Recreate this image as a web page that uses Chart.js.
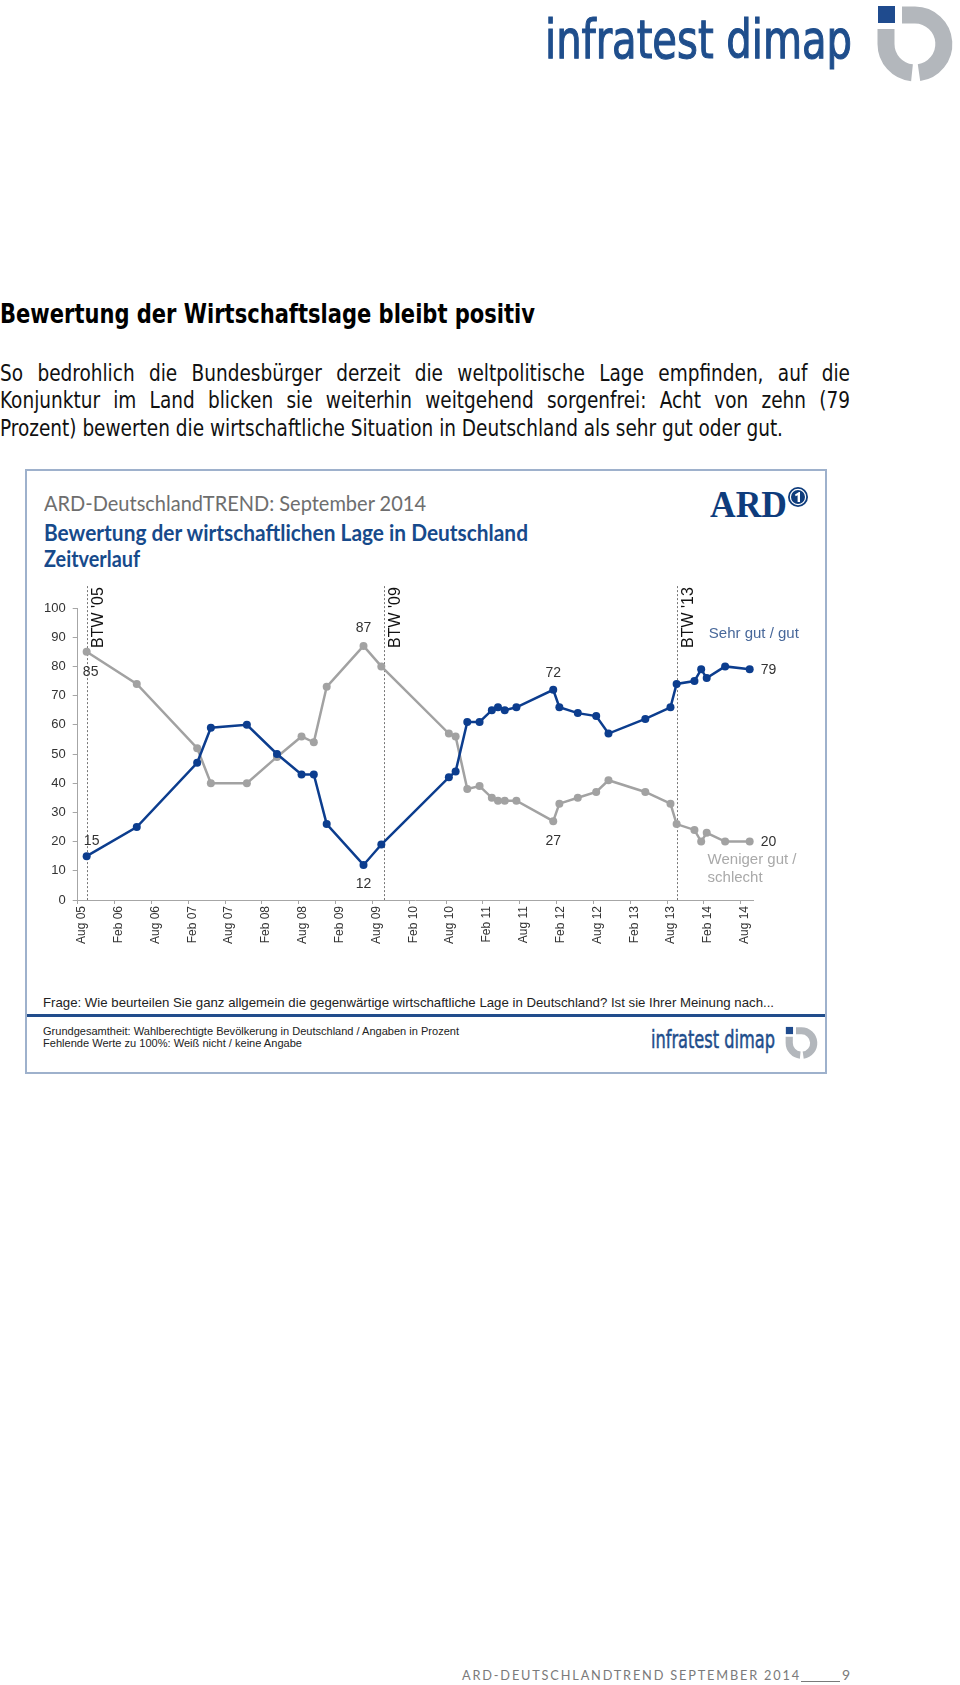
<!DOCTYPE html>
<html>
<head>
<meta charset="utf-8">
<title>Bewertung der Wirtschaftslage</title>
<script src="https://cdn.jsdelivr.net/npm/chart.js@4.4.1/dist/chart.umd.min.js"></script>
<style>
  body { margin: 0; background: #fff; }
  #page { position: relative; width: 960px; height: 1685px; overflow: hidden; font-family: "Liberation Sans", Arial, sans-serif; }
  .t { position: absolute; white-space: nowrap; line-height: 1; transform-origin: left top; }
  .narrow { font-family: "Liberation Sans Narrow", "DejaVu Sans Condensed", sans-serif; }
  .hum { font-family: Lato, "Open Sans", sans-serif; }
  #box { position: absolute; left: 25px; top: 469px; width: 798px; height: 601px; border: 2px solid #9eb1cc; }
  #chartWrap { position: absolute; left: 26px; top: 560px; width: 800px; height: 410px; }
  #rule { position: absolute; left: 27px; top: 1014px; width: 798px; height: 3px; background: #214d8c; }
</style>
</head>
<body>
<div id="page">
  <!-- top logo -->
  <div class="t narrow" style="left:545px; top:13px; font-size:53px; color:#1f4e8c; -webkit-text-stroke:1.1px #1f4e8c;" data-w="307">infratest dimap</div>
  <svg style="position:absolute; left:876px; top:4px;" width="78" height="80" viewBox="876 4 78 80">
    <rect x="878" y="6" width="17" height="17" fill="#1f4b8e"/>
    <path d="M 902 15 H 915 A 29 29 0 0 1 919 72.7" fill="none" stroke="#b3b7bc" stroke-width="17"/>
    <path d="M 886 29 V 44 A 29 29 0 0 0 912 72.8" fill="none" stroke="#b3b7bc" stroke-width="17"/>
  </svg>

  <div class="t narrow" style="left:0; top:300px; font-size:27px; font-weight:bold; color:#000;" data-w="535">Bewertung der Wirtschaftslage bleibt positiv</div>

  <div class="t narrow par" id="p1" style="left:0; top:362px; font-size:23px; color:#111;" data-jw="850">So bedrohlich die Bundesbürger derzeit die weltpolitische Lage empfinden, auf die</div>
  <div class="t narrow par" id="p2" style="left:0; top:389px; font-size:23px; color:#111;" data-jw="850">Konjunktur im Land blicken sie weiterhin weitgehend sorgenfrei: Acht von zehn (79</div>
  <div class="t narrow par" id="p3" style="left:0; top:417px; font-size:23px; color:#111;">Prozent) bewerten die wirtschaftliche Situation in Deutschland als sehr gut oder gut.</div>

  <div id="box"></div>
  <div class="t hum" style="left:44px; top:492px; font-size:22px; color:#6e6e6e;" data-w="382">ARD-DeutschlandTREND: September 2014</div>
  <div class="t hum" style="left:44px; top:522px; font-size:22px; color:#174a8b; font-weight:bold;" data-w="484">Bewertung der wirtschaftlichen Lage in Deutschland</div>
  <div class="t hum" style="left:44px; top:548px; font-size:22px; color:#174a8b; font-weight:bold;" data-w="96">Zeitverlauf</div>

  <div class="t" style="left:710px; top:486px; font-family:'Liberation Serif',serif; font-weight:bold; font-size:37px; color:#0e3c7c;" data-w="77">ARD</div>
  <svg style="position:absolute; left:787px; top:486px;" width="22" height="22" viewBox="0 0 22 22">
    <circle cx="11" cy="11" r="10" fill="#0e3c7c"/>
    <circle cx="11" cy="11" r="7.6" fill="none" stroke="#fff" stroke-width="1.2"/>
    <path d="M 8 8.5 L 12 6 L 13 6 L 13 16 L 10.6 16 L 10.6 9.2 L 8.6 10.3 Z" fill="#fff"/>
  </svg>

  <div id="chartWrap"><canvas id="trendChart" width="800" height="410"></canvas></div>

  <div class="t" style="left:43px; top:996px; font-size:13px; color:#222;" data-w="731">Frage: Wie beurteilen Sie ganz allgemein die gegenwärtige wirtschaftliche Lage in Deutschland? Ist sie Ihrer Meinung nach...</div>
  <div id="rule"></div>
  <div class="t" style="left:43px; top:1026px; font-size:11px; color:#222;" data-w="416">Grundgesamtheit: Wahlberechtigte Bevölkerung in Deutschland / Angaben in Prozent</div>
  <div class="t" style="left:43px; top:1038px; font-size:11px; color:#222;" data-w="259">Fehlende Werte zu 100%: Weiß nicht / keine Angabe</div>

  <div class="t narrow" style="left:651px; top:1028px; font-size:24px; color:#1f4e8c; -webkit-text-stroke:0.5px #1f4e8c;" data-w="124">infratest dimap</div>
  <svg style="position:absolute; left:785px; top:1026px;" width="33" height="34" viewBox="876 4 78 80">
    <rect x="878" y="6" width="17" height="17" fill="#1f4b8e"/>
    <path d="M 902 15 H 915 A 29 29 0 0 1 919 72.7" fill="none" stroke="#b3b7bc" stroke-width="17"/>
    <path d="M 886 29 V 44 A 29 29 0 0 0 912 72.8" fill="none" stroke="#b3b7bc" stroke-width="17"/>
  </svg>

  <div class="t hum" style="left:462px; top:1668px; font-size:14px; color:#7a7a7a; letter-spacing:2px;" data-w="339">ARD-DEUTSCHLANDTREND SEPTEMBER 2014</div>
  <div style="position:absolute; left:801px; top:1681px; width:39px; height:1px; background:#7a7a7a;"></div>
  <div class="t hum" style="left:842px; top:1668px; font-size:14px; color:#7a7a7a;">9</div>
</div>

<script>
  // survey dates (approximate field dates)
  const surveyDates = [
    '2005-09-15', '2006-05-20', '2007-03-15', '2007-05-22', '2007-11-18',
    '2008-04-15', '2008-08-15', '2008-10-15', '2008-12-18', '2009-06-18',
    '2009-09-15', '2010-08-15', '2010-09-18', '2010-11-15', '2011-01-15',
    '2011-03-15', '2011-04-15', '2011-05-18', '2011-07-15', '2012-01-15',
    '2012-02-15', '2012-05-15', '2012-08-15', '2012-10-15', '2013-04-15',
    '2013-08-18', '2013-09-18', '2013-12-15', '2014-01-18', '2014-02-15',
    '2014-05-15', '2014-09-15'
  ];
  const goodValues = [15, 25, 47, 59, 60, 50, 43, 43, 26, 12, 19, 42, 44, 61, 61, 65,
    66, 65, 66, 72, 66, 64, 63, 57, 62, 66, 74, 75, 79, 76, 80, 79];
  const badValues = [85, 74, 52, 40, 40, 49, 56, 54, 73, 87, 80, 57, 56, 38, 39, 35,
    34, 34, 34, 27, 33, 35, 37, 41, 37, 33, 26, 24, 20, 23, 20, 20];
  const seriesNames = ['Sehr gut / gut', 'Weniger gut / schlecht'];

  const tickLabels = ['Aug 05', 'Feb 06', 'Aug 06', 'Feb 07', 'Aug 07', 'Feb 08', 'Aug 08',
    'Feb 09', 'Aug 09', 'Feb 10', 'Aug 10', 'Feb 11', 'Aug 11', 'Feb 12', 'Aug 12',
    'Feb 13', 'Aug 13', 'Feb 14', 'Aug 14'];
  const yTicks = [0, 10, 20, 30, 40, 50, 60, 70, 80, 90, 100];

  const btwDates = ['2005-09-18', '2009-09-27', '2013-09-22'];
  const btwLabels = ["BTW '05", "BTW '09", "BTW '13"];

  const BLUE = '#0c3d8e';
  const GREY = '#a2a2a2';

  // months after 1 Aug 2005
  function monthsSince(dateStr) {
    const [y, m, d] = dateStr.split('-').map(Number);
    return (y - 2005) * 12 + (m - 8) + (d - 1) / 30.5;
  }
  function tickValue(label) {
    const m = label.startsWith('Aug') ? '08' : '02';
    return monthsSince('20' + label.slice(4) + '-' + m + '-01');
  }

  const overlay = {
    id: 'overlay',
    beforeDatasetsDraw(chart) {
      const { ctx, scales: { x, y } } = chart;
      ctx.save();
      ctx.strokeStyle = '#777';
      ctx.lineWidth = 1;
      ctx.setLineDash([2, 2]);
      btwDates.forEach((d) => {
        const px = Math.round(x.getPixelForValue(monthsSince(d))) + 0.5;
        ctx.beginPath();
        ctx.moveTo(px, y.getPixelForValue(107.5));
        ctx.lineTo(px, y.getPixelForValue(0));
        ctx.stroke();
      });
      ctx.restore();
    },
    afterDatasetsDraw(chart, args, opts) {
      const { ctx, scales: { x, y } } = chart;
      ctx.save();
      // election labels
      ctx.fillStyle = '#111';
      ctx.font = '16px "Liberation Sans", Arial';
      ctx.textAlign = 'right';
      ctx.textBaseline = 'top';
      btwDates.forEach((d, i) => {
        const px = Math.round(x.getPixelForValue(monthsSince(d)));
        ctx.save();
        ctx.translate(px + 4, y.getPixelForValue(107.5) + 1);
        ctx.rotate(-Math.PI / 2);
        ctx.fillText(btwLabels[i], 0, 0);
        ctx.restore();
      });
      // value labels
      ctx.fillStyle = '#333';
      ctx.font = '14px "Liberation Sans", Arial';
      ctx.textBaseline = 'middle';
      opts.values.forEach((v) => {
        const pt = chart.getDatasetMeta(v.ds).data[v.i];
        ctx.textAlign = v.align || 'center';
        ctx.fillText(String(chart.data.datasets[v.ds].data[v.i].y), pt.x + v.dx, pt.y + v.dy);
      });
      // series names
      ctx.font = '15px "Liberation Sans", Arial';
      ctx.textAlign = 'left';
      opts.names.forEach((n) => {
        ctx.fillStyle = n.color;
        ctx.fillText(n.text, x.getPixelForValue(n.x), y.getPixelForValue(n.y));
      });
      ctx.restore();
    }
  };

  function initChart() {
    const toPoints = (vals) => surveyDates.map((d, i) => ({ x: monthsSince(d), y: vals[i] }));
    new Chart(document.getElementById('trendChart').getContext('2d'), {
      type: 'line',
      data: {
        datasets: [
          { label: seriesNames[0], data: toPoints(goodValues), borderColor: BLUE, backgroundColor: BLUE,
            borderWidth: 2.5, pointRadius: 4, pointBorderWidth: 0, tension: 0 },
          { label: seriesNames[1], data: toPoints(badValues), borderColor: GREY, backgroundColor: GREY,
            borderWidth: 2.5, pointRadius: 4, pointBorderWidth: 0, tension: 0 }
        ]
      },
      options: {
        responsive: false,
        animation: false,
        clip: false,
        events: [],
        layout: { padding: { left: 0, right: 73, top: 48, bottom: 0 } },
        scales: {
          x: {
            type: 'linear',
            min: 0,
            max: monthsSince('2014-10-01'),
            afterBuildTicks: (s) => { s.ticks = tickLabels.map((l) => ({ value: tickValue(l) })); },
            afterFit: (s) => { s.height = 70; },
            grid: { drawOnChartArea: false, color: '#a6a6a6', tickLength: 4 },
            border: { color: '#a6a6a6' },
            ticks: {
              autoSkip: false, maxRotation: 90, minRotation: 90, padding: 2, labelOffset: 4,
              color: '#333', font: { family: '"Liberation Sans", Arial', size: 12 },
              callback: (v, i) => tickLabels[i]
            }
          },
          y: {
            min: 0,
            max: 100,
            afterBuildTicks: (s) => { s.ticks = yTicks.map((v) => ({ value: v })); },
            afterFit: (s) => { s.width = 51.7; },
            grid: { drawOnChartArea: false, color: '#a6a6a6', tickLength: 5 },
            border: { color: '#a6a6a6' },
            ticks: { padding: 7, color: '#333', font: { family: '"Liberation Sans", Arial', size: 13 } }
          }
        },
        plugins: {
          legend: { display: false },
          tooltip: { enabled: false },
          overlay: {
            values: [
              { ds: 1, i: 0, dx: 4, dy: 20 },
              { ds: 0, i: 0, dx: 5, dy: -15 },
              { ds: 1, i: 9, dx: 0, dy: -18 },
              { ds: 0, i: 9, dx: 0, dy: 19 },
              { ds: 0, i: 19, dx: 0, dy: -17 },
              { ds: 1, i: 19, dx: 0, dy: 20 },
              { ds: 0, i: 31, dx: 11, dy: 1, align: 'left' },
              { ds: 1, i: 31, dx: 11, dy: 1, align: 'left' }
            ],
            names: [
              { text: 'Sehr gut / gut', x: 102.8, y: 91.1, color: '#48689a' },
              { text: 'Weniger gut /', x: 102.6, y: 13.7, color: '#a9a9a9' },
              { text: 'schlecht', x: 102.6, y: 7.7, color: '#a9a9a9' }
            ]
          }
        }
      },
      plugins: [overlay]
    });
  }

  function fitTexts() {
    document.querySelectorAll('[data-w]').forEach((el) => {
      const w = el.getBoundingClientRect().width;
      el.style.transform = 'scaleX(' + (+el.dataset.w / w) + ')';
    });
    // paragraph: scale from the last line, justify the others with word spacing
    const last = document.getElementById('p3');
    const s = 783 / last.getBoundingClientRect().width;
    document.querySelectorAll('.par').forEach((el) => {
      el.style.transform = 'scaleX(' + s + ')';
      if (el.dataset.jw) {
        const w = el.getBoundingClientRect().width / s;
        const spaces = el.textContent.split(' ').length - 1;
        el.style.wordSpacing = ((+el.dataset.jw / s - w) / spaces) + 'px';
      }
    });
  }

  window.onload = function () {
    document.fonts.ready.then(() => {
      fitTexts();
      initChart();
    });
  };
</script>
</body>
</html>
